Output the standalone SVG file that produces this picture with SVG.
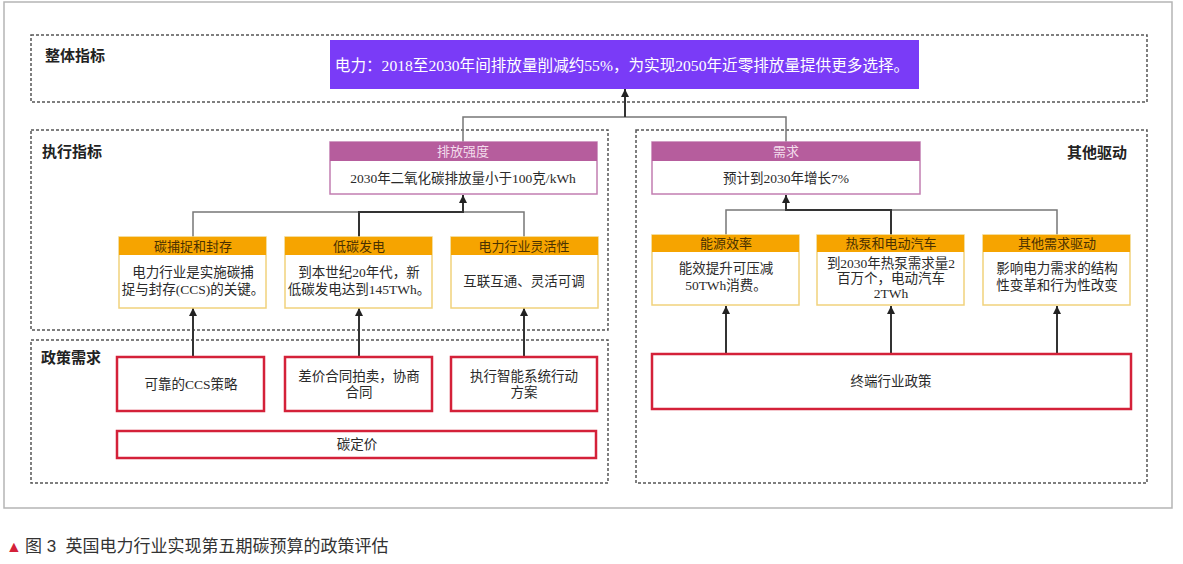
<svg xmlns="http://www.w3.org/2000/svg" width="1183" height="564" viewBox="0 0 1183 564">
<defs>
<marker id="ah" viewBox="0 0 10 10" refX="10" refY="5" markerWidth="8" markerHeight="8" markerUnits="userSpaceOnUse" orient="auto"><path d="M0,0 L10,5 L0,10 z" fill="#222"/></marker>
<style>
.t{font-family:"Liberation Serif","Noto Sans CJK SC",serif;fill:#2a2a2a;text-anchor:middle}
.lbl{font-family:"Liberation Sans","Noto Sans CJK SC",sans-serif;font-weight:bold;font-size:15px;fill:#222}
.dash{fill:none;stroke:#555;stroke-width:1.5;stroke-dasharray:3 2}
.ph{fill:#b65d9d}
.pb{fill:#fff;stroke:#c27eb1;stroke-width:1.5}
.oh{fill:#f6a400}
.ob{fill:#fff;stroke:#f1d27c;stroke-width:1.5}
.rb{fill:#fff;stroke:#d42139;stroke-width:2.5}
.g{fill:none;stroke:#777;stroke-width:1.5}
.d{fill:none;stroke:#333;stroke-width:2}
.ht{font-size:13px;fill:#f3dcec}
.oht{font-size:13px;fill:#4a3100}
.bt{font-size:13.5px}
</style>
</defs>
<rect width="1183" height="564" fill="#fff"/>
<rect x="4" y="2" width="1168" height="506" fill="none" stroke="#b5b5b5" stroke-width="1.5"/>

<g id="frames">
<rect class="dash" x="31" y="35" width="1116" height="67"/>
<rect class="dash" x="31" y="130" width="577" height="200"/>
<rect class="dash" x="636" y="130" width="511" height="353"/>
<rect class="dash" x="31" y="340" width="577" height="143"/>
<text class="lbl" x="45" y="61">整体指标</text>
<text class="lbl" x="42" y="157">执行指标</text>
<text class="lbl" x="1067" y="158">其他驱动</text>
<text class="lbl" x="41" y="363">政策需求</text>
</g>

<g id="connectors">
<polyline class="g" points="463,142 463,117 786,117 786,142"/>
<line class="d" x1="625" y1="117" x2="625" y2="89" marker-end="url(#ah)"/>
<polyline class="g" points="193,237 193,212 524,212 524,237"/>
<polyline class="d" points="359,237 359,212 463,212 463,195" marker-end="url(#ah)"/>
<polyline class="g" points="726,235 726,210 1057,210 1057,235"/>
<polyline class="d" points="891,235 891,210 786,210 786,195" marker-end="url(#ah)"/>
<line class="d" x1="193" y1="357" x2="193" y2="308" marker-end="url(#ah)"/>
<line class="d" x1="359" y1="357" x2="359" y2="308" marker-end="url(#ah)"/>
<line class="d" x1="524" y1="357" x2="524" y2="308" marker-end="url(#ah)"/>
<line class="d" x1="726" y1="354" x2="726" y2="306" marker-end="url(#ah)"/>
<line class="d" x1="891" y1="354" x2="891" y2="306" marker-end="url(#ah)"/>
<line class="d" x1="1057" y1="354" x2="1057" y2="306" marker-end="url(#ah)"/>
</g>

<g id="goal">
<rect x="330" y="40" width="589" height="49" fill="#7a3bf7"/>
<text class="t" x="622" y="71" font-size="15.6" style="fill:#fff">电力：2018至2030年间排放量削减约55%，为实现2050年近零排放量提供更多选择。</text>
</g>

<g id="intensity">
<rect class="pb" x="330" y="142" width="267" height="52"/>
<rect class="ph" x="330" y="142" width="267" height="19"/>
<text class="t ht" x="463" y="156">排放强度</text>
<text class="t bt" x="463" y="183">2030年二氧化碳排放量小于100克/kWh</text>
</g>

<g id="demand">
<rect class="pb" x="652" y="142" width="268" height="52"/>
<rect class="ph" x="652" y="142" width="268" height="19"/>
<text class="t ht" x="786" y="156">需求</text>
<text class="t bt" x="786" y="183">预计到2030年增长7%</text>
</g>

<g id="ccs">
<rect class="ob" x="119" y="237" width="147" height="71"/>
<rect class="oh" x="119" y="237" width="147" height="18"/>
<text class="t oht" x="193" y="251">碳捕捉和封存</text>
<text class="t bt" x="193" y="277">电力行业是实施碳捕</text>
<text class="t bt" x="193" y="294">捉与封存(CCS)的关键。</text>
</g>

<g id="lowcarbon">
<rect class="ob" x="285" y="237" width="147" height="71"/>
<rect class="oh" x="285" y="237" width="147" height="18"/>
<text class="t oht" x="359" y="251">低碳发电</text>
<text class="t bt" x="359" y="277">到本世纪20年代，新</text>
<text class="t bt" x="359" y="294">低碳发电达到145TWh。</text>
</g>

<g id="flex">
<rect class="ob" x="451" y="237" width="147" height="71"/>
<rect class="oh" x="451" y="237" width="147" height="18"/>
<text class="t oht" x="524" y="251">电力行业灵活性</text>
<text class="t bt" x="524" y="286">互联互通、灵活可调</text>
</g>

<g id="efficiency">
<rect class="ob" x="652" y="235" width="147" height="70"/>
<rect class="oh" x="652" y="235" width="147" height="17"/>
<text class="t oht" x="726" y="248">能源效率</text>
<text class="t bt" x="726" y="273">能效提升可压减</text>
<text class="t bt" x="726" y="290">50TWh消费。</text>
</g>

<g id="heatpump">
<rect class="ob" x="817" y="235" width="147" height="70"/>
<rect class="oh" x="817" y="235" width="147" height="17"/>
<text class="t oht" x="891" y="248">热泵和电动汽车</text>
<text class="t bt" x="891" y="268">到2030年热泵需求量2</text>
<text class="t bt" x="891" y="283">百万个，电动汽车</text>
<text class="t bt" x="891" y="298">2TWh</text>
</g>

<g id="otherdemand">
<rect class="ob" x="983" y="235" width="147" height="70"/>
<rect class="oh" x="983" y="235" width="147" height="17"/>
<text class="t oht" x="1057" y="248">其他需求驱动</text>
<text class="t bt" x="1057" y="273">影响电力需求的结构</text>
<text class="t bt" x="1057" y="290">性变革和行为性改变</text>
</g>

<g id="ccspolicy">
<rect class="rb" x="117" y="357" width="147" height="54"/>
<text class="t bt" x="191" y="389">可靠的CCS策略</text>
</g>

<g id="cfd">
<rect class="rb" x="285" y="357" width="147" height="54"/>
<text class="t bt" x="359" y="381">差价合同拍卖，协商</text>
<text class="t bt" x="359" y="397">合同</text>
</g>

<g id="smart">
<rect class="rb" x="451" y="357" width="146" height="54"/>
<text class="t bt" x="524" y="381">执行智能系统行动</text>
<text class="t bt" x="524" y="397">方案</text>
</g>

<g id="carbonprice">
<rect class="rb" x="117" y="431" width="479" height="27"/>
<text class="t bt" x="357" y="449">碳定价</text>
</g>

<g id="enduse">
<rect class="rb" x="652" y="354" width="479" height="55"/>
<text class="t bt" x="891" y="386">终端行业政策</text>
</g>

<g id="caption">
<text x="6" y="552" font-family="Liberation Sans,sans-serif" font-size="16" fill="#d42139">▲</text>
<text x="25" y="552" font-family="Liberation Sans,'Noto Sans CJK SC',sans-serif" font-size="17" fill="#333" xml:space="preserve">图 3  英国电力行业实现第五期碳预算的政策评估</text>
</g>
</svg>
